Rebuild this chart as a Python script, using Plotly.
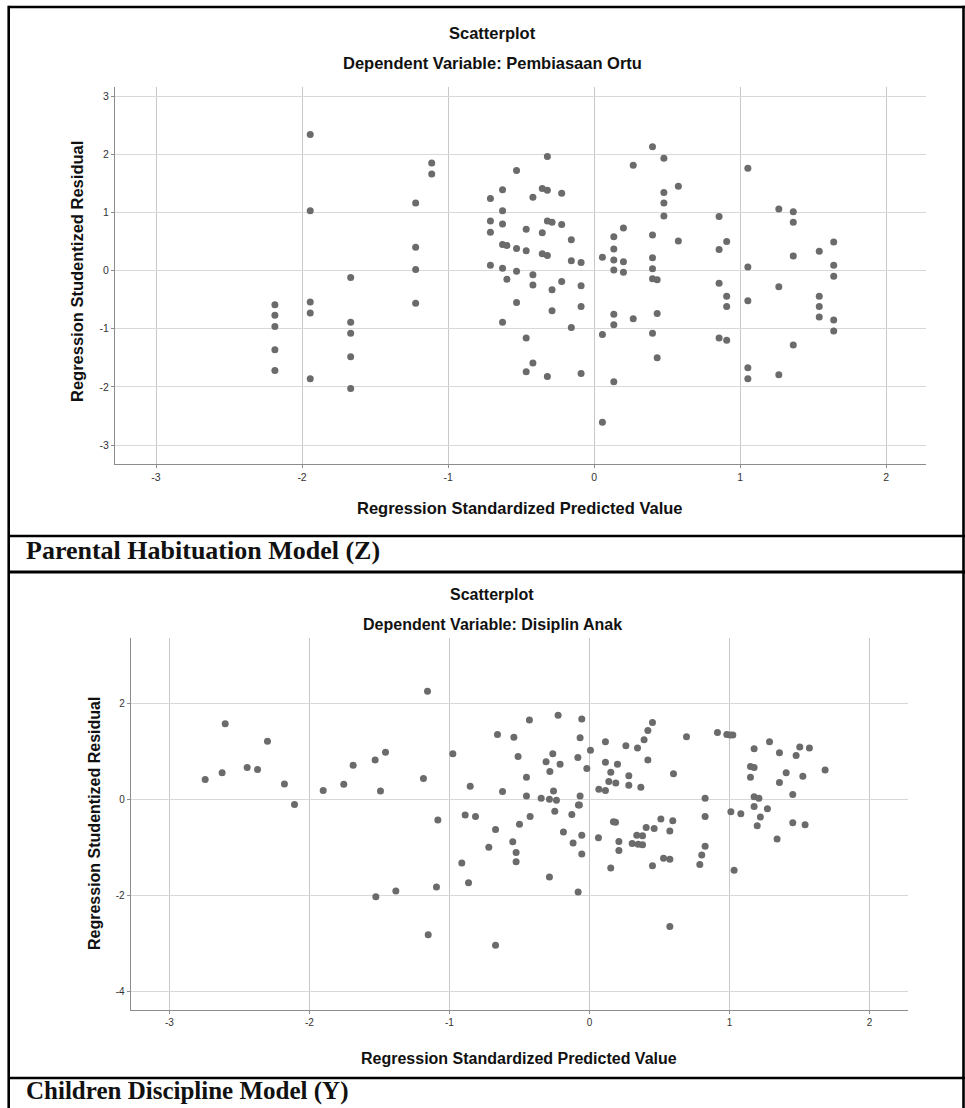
import plotly.graph_objects as go

# ---------------- data ----------------
# Top chart: Dependent Variable: Pembiasaan Ortu
top_pred = (
    [-2.186] * 5 + [-1.944] * 5 + [-1.667] * 5 + [-1.222] * 4 + [-1.112] * 2 +
    [-0.71] * 4 + [-0.627] * 6 + [-0.597] * 2 + [-0.531] * 4 + [-0.465] * 4 +
    [-0.419] * 4 + [-0.355] * 3 + [-0.320] * 5 + [-0.288] * 3 + [-0.222] * 3 +
    [-0.156] * 3 + [-0.089] * 4 + [0.057] * 3 + [0.135] * 7 + [0.201] * 3 +
    [0.268] * 2 + [0.400] * 6 + [0.432] * 3 + [0.478] * 4 + [0.577] * 2 +
    [0.856] * 4 + [0.908] * 4 + [1.053] * 5 + [1.265] * 3 + [1.364] * 4 +
    [1.542] * 4 + [1.641] * 5
)
top_resid = [
    -0.59, -0.77, -0.96, -1.36, -1.72,
    2.34, 1.03, -0.54, -0.73, -1.86,
    -0.12, -0.89, -1.08, -1.48, -2.03,
    1.16, 0.40, 0.02, -0.56,
    1.85, 1.66,
    1.24, 0.85, 0.66, 0.09,
    1.39, 1.03, 0.80, 0.45, 0.04, -0.89,
    0.43, -0.15,
    1.72, 0.38, -0.01, -0.55,
    0.71, 0.34, -1.16, -1.74,
    1.26, -0.07, -0.25, -1.59,
    1.41, 0.65, 0.29,
    1.96, 1.38, 0.85, 0.26, -1.82,
    0.83, -0.33, -0.69,
    1.33, 0.79, -0.19,
    0.53, 0.17, -0.98,
    0.14, -0.26, -0.62, -1.77,
    0.23, -1.10, -2.61,
    0.58, 0.37, 0.18, 0.01, -0.75, -0.93, -1.91,
    0.73, 0.15, -0.03,
    1.81, -0.83,
    2.13, 0.61, 0.22, 0.03, -0.14, -1.08,
    -0.16, -0.74, -1.50,
    1.93, 1.34, 1.16, 0.94,
    1.45, 0.51,
    0.93, 0.36, -0.22, -1.16,
    0.50, -0.44, -0.62, -1.20,
    1.76, 0.06, -0.52, -1.67, -1.86,
    1.06, -0.28, -1.79,
    1.01, 0.83, 0.25, -1.28,
    0.33, -0.44, -0.62, -0.80,
    0.49, 0.09, -0.10, -0.85, -1.04,
]

# Bottom chart: Dependent Variable: Disiplin Anak
bot_pred = [
    -2.745, -2.624, -2.602, -2.445, -2.371, -2.300, -2.179, -2.107, -1.902, -1.755,
    -1.688, -1.531, -1.526, -1.493, -1.457, -1.383, -1.186, -1.157, -1.152, -1.093,
    -1.083, -0.976, -0.912, -0.888, -0.864, -0.852, -0.814, -0.719, -0.671, -0.671,
    -0.657, -0.621, -0.540, -0.548, -0.524, -0.524, -0.510, -0.500, -0.450, -0.450,
    -0.429, -0.424, -0.345, -0.310, -0.286, -0.283, -0.286, -0.262, -0.257, -0.248,
    -0.236, -0.224, -0.210, -0.186, -0.126, -0.117, -0.083, -0.081, -0.079, -0.067,
    -0.067, -0.072, -0.055, -0.055, -0.055, -0.019, 0.007, 0.064, 0.067, 0.114,
    0.114, 0.114, 0.138, 0.152, 0.152, 0.171, 0.186, 0.188, 0.200, 0.210,
    0.210, 0.260, 0.281, 0.281, 0.305, 0.338, 0.343, 0.348, 0.367, 0.379,
    0.379, 0.390, 0.405, 0.417, 0.417, 0.450, 0.450, 0.462, 0.510, 0.529,
    0.574, 0.574, 0.574, 0.595, 0.600, 0.693, 0.788, 0.802, 0.826, 0.826,
    0.826, 0.914, 0.981, 1.005, 1.024, 1.010, 1.033, 1.081, 1.150, 1.150,
    1.176, 1.176, 1.176, 1.176, 1.198, 1.210, 1.221, 1.271, 1.286, 1.340,
    1.357, 1.357, 1.405, 1.452, 1.452, 1.476, 1.502, 1.524, 1.540, 1.571,
    1.683,
]
bot_resid = [
    0.42, 0.56, 1.58, 0.67, 0.63, 1.22, 0.33, -0.10, 0.19, 0.32,
    0.72, 0.83, -2.02, 0.18, 0.99, -1.90, 0.44, 2.26, -2.81, -1.82,
    -0.42, 0.96, -1.32, -0.32, -1.73, 0.28, -0.35, -0.99, -0.62, -3.03,
    1.36, 0.17, 1.30, -0.875, -1.10, -1.29, 0.90, -0.51, 0.47, 0.08,
    1.66, -0.35, 0.03, 0.79, -1.61, 0.59, 0.01, 0.96, 0.18, -0.24,
    -0.01, 1.76, 0.74, -0.67, -0.31, -0.90, 0.88, -1.92, -0.11, 1.29,
    0.08, -0.11, 1.68, -0.74, -1.13, 0.65, 1.03, -0.79, 0.22, 1.21,
    0.78, 0.19, 0.38, 0.57, -1.42, -0.46, -0.47, 0.35, 0.74, -0.87,
    -1.06, 1.125, 0.50, 0.30, -0.91, -0.74, 1.08, -0.93, 0.26, -0.75,
    -0.94, 1.25, -0.58, 0.83, 1.44, 1.61, -1.375, -0.60, -0.40, -1.22,
    -1.24, -0.65, -2.64, -0.44, 0.54, 1.31, -1.35, -1.15, -0.97, -0.35,
    0.03, 1.40, 1.36, 1.35, 1.35, -0.25, -1.47, -0.29, 0.47, 0.69,
    0.67, 1.06, 0.06, -0.14, -0.54, 0.03, -0.36, -0.19, 1.21, -0.82,
    0.98, 0.36, 0.56, 0.11, -0.48, 0.92, 1.10, 0.49, -0.52, 1.08,
    0.62,
]

tick_vals_x = [-3, -2, -1, 0, 1, 2]
tick_vals_y_top = [-3, -2, -1, 0, 1, 2, 3]
tick_vals_y_bot = [-4, -2, 0, 2]

titles_top = ["Scatterplot", "Dependent Variable: Pembiasaan Ortu"]
titles_bot = ["Scatterplot", "Dependent Variable: Disiplin Anak"]
x_title = "Regression Standardized Predicted Value"
y_title = "Regression Studentized Residual"
cell_labels = ["Parental Habituation Model (Z)", "Children Discipline Model (Y)"]

# ---------------- layout helpers ----------------
W, H = 965, 1108


def px(x):
    return x / W


def py(y):
    return 1 - y / H


SANS = "Liberation Sans, Arial, sans-serif"
SERIF = "Liberation Serif, Times New Roman, serif"
MARK = "#6b6b6b"

fig = go.Figure()
fig.add_trace(go.Scatter(x=top_pred, y=top_resid, mode="markers",
                         marker=dict(color=MARK, size=7), xaxis="x", yaxis="y",
                         showlegend=False, hoverinfo="x+y"))
fig.add_trace(go.Scatter(x=bot_pred, y=bot_resid, mode="markers",
                         marker=dict(color=MARK, size=7), xaxis="x2", yaxis="y2",
                         showlegend=False, hoverinfo="x+y"))


def axis(domain, rng, tickvals, gridcolor, fs):
    return dict(domain=domain, range=rng, tickvals=tickvals,
                ticktext=[str(v) for v in tickvals],
                showgrid=True, gridcolor=gridcolor, gridwidth=1,
                zeroline=False, showline=True, linecolor="#8c8c8c", linewidth=1,
                ticks="outside", ticklen=3, tickcolor="#8c8c8c",
                tickfont=dict(family=SANS, size=fs, color="#333333"),
                fixedrange=True)


# top plot area: x 115..926 px, y 87..464 px
# bottom plot area: x 130.7..907.7 px, y 637.7..1010 px
fig.update_layout(
    width=W, height=H, autosize=False,
    margin=dict(l=0, r=0, t=0, b=0),
    paper_bgcolor="white", plot_bgcolor="white",
    xaxis=axis([px(115), px(926)], [-3.281, 2.273], tick_vals_x, "#c8c8c8", 10.5),
    yaxis=axis([py(464), py(87)], [-3.326, 3.156], tick_vals_y_top, "#d8d8d8", 10.5),
    xaxis2=axis([px(130.7), px(907.7)], [-3.277, 2.273], tick_vals_x, "#c8c8c8", 10),
    yaxis2=axis([py(1010), py(637.7)], [-4.38, 3.375], tick_vals_y_bot, "#d8d8d8", 10),
)
fig.update_layout(xaxis=dict(anchor="y"), yaxis=dict(anchor="x"),
                  xaxis2=dict(anchor="y2"), yaxis2=dict(anchor="x2"))

ann = []


def text(t, x, y, size, family=SANS, bold=True, xanchor="center", angle=0,
         yanchor="middle"):
    ann.append(dict(text=("<b>%s</b>" % t) if bold else t, x=px(x), y=py(y),
                    xref="paper", yref="paper", showarrow=False,
                    xanchor=xanchor, yanchor=yanchor, textangle=angle,
                    font=dict(family=family, size=size, color="#111111")))


text(titles_top[0], 492, 33, 16.5)
text(titles_top[1], 492, 63, 16.5)
text(titles_bot[0], 492, 594, 16)
text(titles_bot[1], 492, 624, 16)
text(x_title, 520, 508, 16.5)
text(x_title, 519, 1058, 16)
text(y_title, 77, 272, 16.5, angle=-90)
text(y_title, 94, 824, 16, angle=-90)
text(cell_labels[0], 24, 550, 26, family=SERIF, xanchor="left")
text(cell_labels[1], 24, 1107, 25, family=SERIF, xanchor="left", yanchor="bottom")

fig.update_layout(annotations=ann)

shapes = []


def line(x0, y0, x1, y1, w=2.6):
    shapes.append(dict(type="line", xref="paper", yref="paper",
                       x0=px(x0), y0=py(y0), x1=px(x1), y1=py(y1),
                       line=dict(color="black", width=w)))


line(8.7, 7, 965, 7)          # top border
line(8.7, 5.7, 8.7, 1108)     # left border
line(963.5, 5.7, 963.5, 1108)  # right border
line(8.7, 536, 965, 536)
line(8.7, 572, 965, 572, 3)
line(8.7, 1078, 965, 1078)
fig.update_layout(shapes=shapes)

fig.write_html(
    "out.html",
    config={"displayModeBar": False, "staticPlot": False},
    post_script="document.body.style.margin='0';document.body.style.padding='0';"
                "document.body.style.overflow='hidden';"
                "document.documentElement.style.overflow='hidden';",
)
